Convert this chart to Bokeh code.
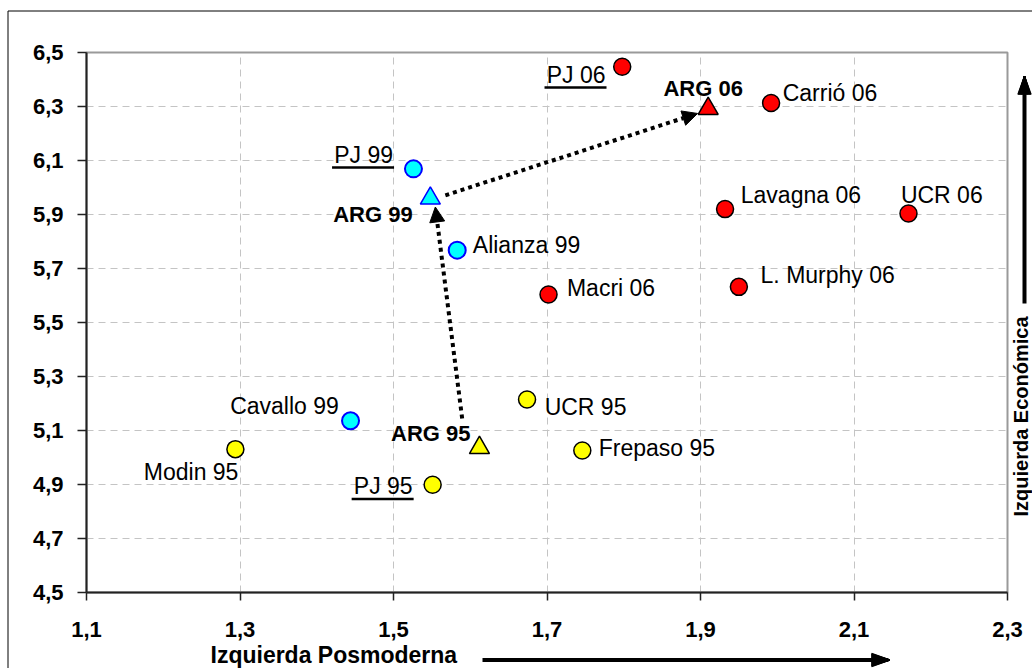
import math
from bokeh.plotting import figure
from bokeh.models import Range1d, FixedTicker, ColumnDataSource, Arrow, NormalHead
from bokeh.core.properties import value
from bokeh.embed import file_html
from bokeh.resources import INLINE

# ---------------- data ----------------
names_95 = ["Modin 95", "PJ 95", "UCR 95", "Frepaso 95"]
x_95 = [1.294, 1.551, 1.674, 1.746]
y_95 = [5.031, 4.899, 5.215, 5.026]

names_99 = ["PJ 99", "Alianza 99", "Cavallo 99"]
x_99 = [1.526, 1.583, 1.444]
y_99 = [6.069, 5.768, 5.136]

names_06 = ["PJ 06", "Carrió 06", "Lavagna 06", "UCR 06", "Macri 06", "L. Murphy 06"]
x_06 = [1.798, 1.992, 1.932, 2.171, 1.702, 1.950]
y_06 = [6.447, 6.313, 5.920, 5.904, 5.604, 5.632]

arg_names = ["ARG 95", "ARG 99", "ARG 06"]
arg_x = [1.612, 1.548, 1.910]
arg_y = [5.036, 5.960, 6.292]

x_ticks = [1.1, 1.3, 1.5, 1.7, 1.9, 2.1, 2.3]
x_tick_labels = ["1,1", "1,3", "1,5", "1,7", "1,9", "2,1", "2,3"]
y_ticks = [4.5, 4.7, 4.9, 5.1, 5.3, 5.5, 5.7, 5.9, 6.1, 6.3, 6.5]
y_tick_labels = ["4,5", "4,7", "4,9", "5,1", "5,3", "5,5", "5,7", "5,9", "6,1", "6,3", "6,5"]

x_title = "Izquierda Posmoderna"
y_title = "Izquierda Económica"

# ---------------- layout ----------------
W, H = 1032, 668
L, R, T, B = 86, 25, 52, 76
X0, X1, Y0, Y1 = 1.1, 2.3, 4.5, 6.5
SX = (W - L - R) / (X1 - X0)
SY = (H - T - B) / (Y1 - Y0)
BASE_FIX = -7.0  # text baseline correction (px)


def px2x(px):
    return X0 + (px - L) / SX


def py2y(py):
    return Y1 - (py - T) / SY


FONT = "Liberation Sans"

# label placement: (dx px, dy px (down), align)
label_layout = {
    "PJ 06": (-16.7, 15.0, "right"),
    "Carrió 06": (11.6, -2.7, "left"),
    "Lavagna 06": (15.7, -7.3, "left"),
    "UCR 06": (-7.6, -11.6, "left"),
    "Macri 06": (18.4, 0.7, "left"),
    "L. Murphy 06": (21.7, -5.0, "left"),
    "PJ 99": (-20.4, -7.0, "right"),
    "Alianza 99": (15.6, 1.7, "left"),
    "Cavallo 99": (-11.7, -7.4, "right"),
    "Modin 95": (3.0, 30.3, "right"),
    "PJ 95": (-20.0, 8.6, "right"),
    "UCR 95": (17.6, 14.7, "left"),
    "Frepaso 95": (16.4, 4.5, "left"),
    "ARG 95": (-9.0, -7.7, "right"),
    "ARG 99": (-17.7, 23.0, "right"),
    "ARG 06": (-5.0, -13.5, "center"),
}
underlined = ["PJ 06", "PJ 99", "PJ 95"]

p = figure(width=W, height=H, output_backend="svg", toolbar_location=None,
           x_range=Range1d(X0, X1), y_range=Range1d(Y0, Y1),
           min_border_left=L, min_border_right=R, min_border_top=T, min_border_bottom=B,
           background_fill_color="white", border_fill_color="white")

p.outline_line_color = "#9a9a9a"
p.outline_line_width = 2

for ax in (p.xaxis, p.yaxis):
    ax.axis_line_color = "#222222"
    ax.axis_line_width = 2
    ax.major_tick_line_color = "#222222"
    ax.major_tick_line_width = 1.5
    ax.major_tick_in = 0
    ax.minor_tick_line_color = None
    ax.major_label_text_font = FONT
    ax.major_label_text_font_size = "22px"
    ax.major_label_text_font_style = "bold"
    ax.major_label_text_color = "black"

p.xaxis.ticker = FixedTicker(ticks=x_ticks)
p.yaxis.ticker = FixedTicker(ticks=y_ticks)
p.xaxis.major_label_overrides = dict(zip(x_ticks, x_tick_labels))
p.yaxis.major_label_overrides = dict(zip(y_ticks, y_tick_labels))
p.xaxis.major_tick_out = 8
p.yaxis.major_tick_out = 9
p.xaxis.major_label_standoff = 21
p.yaxis.major_label_standoff = 14

for g in (p.xgrid, p.ygrid):
    g.grid_line_color = "#c4c4c4"
    g.grid_line_dash = "7 5"
    g.grid_line_width = 1

# ---------------- arrows between ARG points ----------------
arrow_pairs = [(0, 1, (-17.3, -29.4), (5.0, 8.7)),
               (1, 2, (15.0, -3.0), (-10.6, 4.8))]
for i0, i1, o0, o1 in arrow_pairs:
    p.add_layout(Arrow(
        end=NormalHead(size=15, fill_color="black", line_color="black", line_width=1),
        x_start=arg_x[i0] + o0[0] / SX, y_start=arg_y[i0] - o0[1] / SY,
        x_end=arg_x[i1] + o1[0] / SX, y_end=arg_y[i1] - o1[1] / SY,
        line_color="black", line_width=4, line_dash="4 4", line_cap="butt"))

# ---------------- markers ----------------
p.scatter(x_95, y_95, marker="circle", size=17, fill_color="#FFFF00",
          line_color="black", line_width=1.5)
p.scatter(x_99, y_99, marker="circle", size=17, fill_color="#00FFFF",
          line_color="#0000FF", line_width=2)
p.scatter(x_06, y_06, marker="circle", size=17, fill_color="#FF0000",
          line_color="black", line_width=1.5)
arg_fill = ["#FFFF00", "#00FFFF", "#FF0000"]
arg_line = ["black", "#0000FF", "black"]
p.scatter(arg_x, arg_y, marker="triangle", size=20, fill_color=arg_fill,
          line_color=arg_line, line_width=1.5)

# ---------------- labels ----------------
all_names = names_95 + names_99 + names_06 + arg_names
all_x = x_95 + x_99 + x_06 + arg_x
all_y = y_95 + y_99 + y_06 + arg_y
lab = dict(x=[], y=[], text=[], dx=[], dy=[], align=[], style=[], size=[])
for n, xx, yy in zip(all_names, all_x, all_y):
    dx, dy, al = label_layout[n]
    bold = n.startswith("ARG")
    lab["x"].append(xx)
    lab["y"].append(yy)
    lab["text"].append(n)
    lab["dx"].append(dx)
    lab["dy"].append(dy + BASE_FIX)
    lab["align"].append(al)
    lab["style"].append("bold" if bold else "normal")
    lab["size"].append("22px" if bold else "23px")
src = ColumnDataSource(lab)
p.text(x="x", y="y", text="text", x_offset="dx", y_offset="dy", source=src,
       text_align="align", text_baseline="alphabetic", text_font=value(FONT),
       text_font_style="style", text_font_size="size", text_color="black")

# underlines for PJ labels
ux0, ux1, uy = [], [], []
for n, xx, yy in zip(all_names, all_x, all_y):
    if n in underlined:
        dx, dy, al = label_layout[n]
        ux0.append(xx + (dx - 61) / SX)
        ux1.append(xx + (dx + 1) / SX)
        uy.append(yy - (dy + 5.6) / SY)
p.segment(x0=ux0, y0=uy, x1=ux1, y1=uy, line_color="black", line_width=2.5)

# ---------------- axis titles with arrows (drawn outside the frame) ----------------
p.text(x=[px2x(210)], y=[py2y(661 + BASE_FIX)], text=[x_title], text_font=value(FONT),
       text_font_size="23px", text_font_style="bold", text_align="left",
       text_baseline="alphabetic", text_color="black", level="overlay")
p.text(x=[px2x(1027 + BASE_FIX)], y=[py2y(416)], text=[y_title], text_font=value(FONT),
       text_font_size="20px", text_font_style="bold", angle=math.pi / 2,
       text_align="center", text_baseline="alphabetic", text_color="black", level="overlay")

# arrow bodies
p.segment(x0=[px2x(482), px2x(1024)], y0=[py2y(659.5), py2y(303)],
          x1=[px2x(873), px2x(1024)], y1=[py2y(659.5), py2y(92)],
          line_color="black", line_width=4, level="overlay")

# arrow heads, filled with fan of thin segments (glyphs outside frame are not culled)
hx0, hy0, hx1, hy1 = [], [], [], []
n_fan = 28
for k in range(n_fan + 1):
    f = k / n_fan
    # horizontal head: tip (889, 659.5), base x=871, y 653..666
    hx0.append(px2x(889)); hy0.append(py2y(659.5))
    hx1.append(px2x(871)); hy1.append(py2y(653.0 + 13.0 * f))
    # vertical head: tip (1024, 76), base y=94, x 1017.5..1030.5
    hx0.append(px2x(1024)); hy0.append(py2y(76))
    hx1.append(px2x(1017.5 + 13.0 * f)); hy1.append(py2y(94))
p.segment(x0=hx0, y0=hy0, x1=hx1, y1=hy1, line_color="black", line_width=1.5,
          level="overlay")

# outer chart border
p.line([px2x(7.5), px2x(7.5), px2x(1045)], [py2y(690), py2y(10.5), py2y(10.5)],
       line_color="black", line_width=1, level="overlay")

open("out.html", "w").write(file_html(p, INLINE))
